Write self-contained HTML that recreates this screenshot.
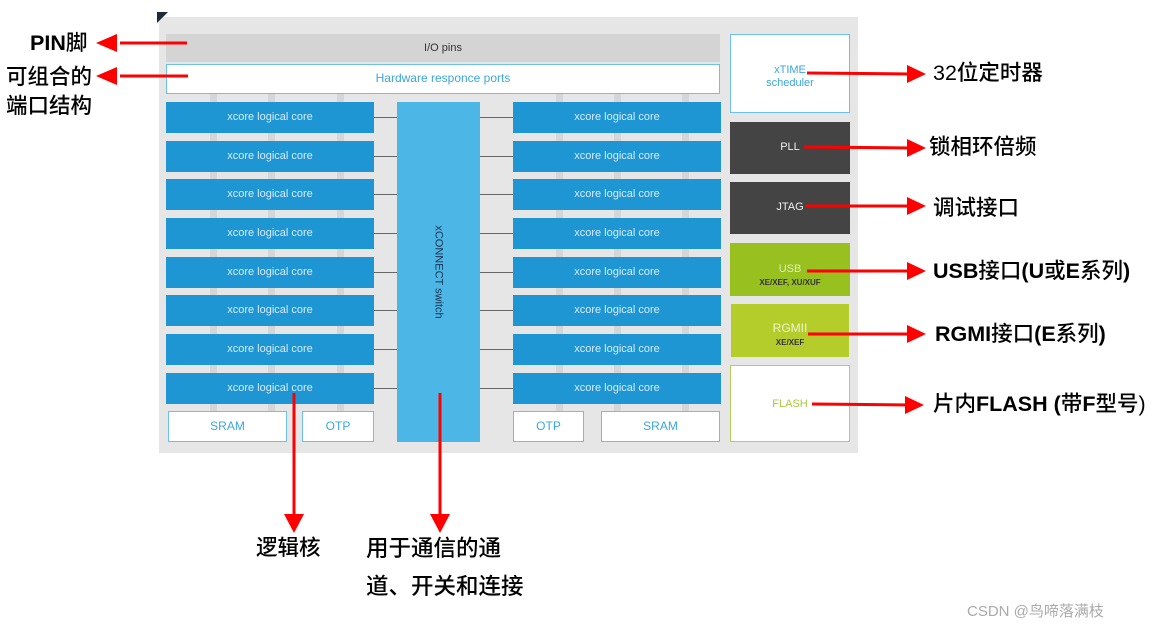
<!DOCTYPE html>
<html><head><meta charset="utf-8"><style>
body{margin:0;width:1153px;height:628px;background:#fff;position:relative;overflow:hidden;font-family:"Liberation Sans","Noto Sans CJK SC",sans-serif}
div{position:absolute;box-sizing:border-box}
.c{background:#1f96d4;color:#d5ecfa;font-size:11px;text-align:center;height:31px;line-height:31px;width:208px}
.w{background:#fff;border:1.5px solid #6cc0ea;color:#3aa6df;font-size:12px;text-align:center}
.lbl{color:#000;font-weight:500;font-size:21.5px;white-space:nowrap;font-family:"Liberation Sans","Noto Sans CJK SC",sans-serif;line-height:26px}
.lbl b{font-weight:bold}
.st{background:#d6d6d6;width:7px}
.ln{background:#666;height:1px}
</style></head><body>
<div style="left:159px;top:17px;width:699px;height:436px;background:#e6e6e6"></div>
<svg style="position:absolute;left:157px;top:12px" width="12" height="12"><polygon points="0,0 11,0 0,11" fill="#1d2a3a"/></svg>
<div class="st" style="left:210px;top:94px;height:318px"></div>
<div class="st" style="left:268px;top:94px;height:318px"></div>
<div class="st" style="left:337px;top:94px;height:318px"></div>
<div class="st" style="left:556px;top:94px;height:318px"></div>
<div class="st" style="left:614px;top:94px;height:318px"></div>
<div class="st" style="left:682px;top:94px;height:318px"></div>
<div style="left:166px;top:34px;width:554px;height:28px;background:#d4d4d4;color:#333;font-size:11px;text-align:center;line-height:28px">I/O pins</div>
<div class="w" style="left:166px;top:64px;width:554px;height:30px;line-height:27px">Hardware responce ports</div>
<div style="left:397px;top:102px;width:83px;height:340px;background:#4cb6e6"></div>
<div style="left:427px;top:102px;width:24px;height:340px;display:flex;align-items:center;justify-content:center"><span style="transform:rotate(90deg);white-space:nowrap;font-size:11px;color:#1a3550">xCONNECT switch</span></div>
<div class="c" style="left:166px;top:102px">xcore logical core</div>
<div class="c" style="left:166px;top:141px">xcore logical core</div>
<div class="c" style="left:166px;top:179px">xcore logical core</div>
<div class="c" style="left:166px;top:218px">xcore logical core</div>
<div class="c" style="left:166px;top:257px">xcore logical core</div>
<div class="c" style="left:166px;top:295px">xcore logical core</div>
<div class="c" style="left:166px;top:334px">xcore logical core</div>
<div class="c" style="left:166px;top:373px">xcore logical core</div>
<div class="c" style="left:513px;top:102px">xcore logical core</div>
<div class="c" style="left:513px;top:141px">xcore logical core</div>
<div class="c" style="left:513px;top:179px">xcore logical core</div>
<div class="c" style="left:513px;top:218px">xcore logical core</div>
<div class="c" style="left:513px;top:257px">xcore logical core</div>
<div class="c" style="left:513px;top:295px">xcore logical core</div>
<div class="c" style="left:513px;top:334px">xcore logical core</div>
<div class="c" style="left:513px;top:373px">xcore logical core</div>
<div class="ln" style="left:374px;top:117px;width:23px"></div><div class="ln" style="left:480px;top:117px;width:33px"></div>
<div class="ln" style="left:374px;top:156px;width:23px"></div><div class="ln" style="left:480px;top:156px;width:33px"></div>
<div class="ln" style="left:374px;top:194px;width:23px"></div><div class="ln" style="left:480px;top:194px;width:33px"></div>
<div class="ln" style="left:374px;top:233px;width:23px"></div><div class="ln" style="left:480px;top:233px;width:33px"></div>
<div class="ln" style="left:374px;top:272px;width:23px"></div><div class="ln" style="left:480px;top:272px;width:33px"></div>
<div class="ln" style="left:374px;top:310px;width:23px"></div><div class="ln" style="left:480px;top:310px;width:33px"></div>
<div class="ln" style="left:374px;top:349px;width:23px"></div><div class="ln" style="left:480px;top:349px;width:33px"></div>
<div class="ln" style="left:374px;top:388px;width:23px"></div><div class="ln" style="left:480px;top:388px;width:33px"></div>
<div class="w" style="left:168px;top:411px;width:119px;height:31px;line-height:28px">SRAM</div>
<div class="w" style="left:302px;top:411px;width:72px;height:31px;line-height:28px">OTP</div>
<div class="w" style="left:513px;top:411px;width:71px;height:31px;line-height:28px">OTP</div>
<div class="w" style="left:601px;top:411px;width:119px;height:31px;line-height:28px">SRAM</div>
<div class="w" style="left:730px;top:34px;width:120px;height:79px;font-size:11px;padding-top:29px;line-height:13px">xTIME<br>scheduler</div>
<div style="left:730px;top:122px;width:120px;height:52px;background:#444;color:#eee;font-size:11px;text-align:center;line-height:50px">PLL</div>
<div style="left:730px;top:182px;width:120px;height:52px;background:#444;color:#eee;font-size:11px;text-align:center;line-height:50px">JTAG</div>
<div style="left:730px;top:243px;width:120px;height:53px;background:#98c11f;color:#dfeec0;font-size:11px;text-align:center;padding-top:20px;line-height:13px">USB<br><b style="font-size:8px;color:#333">XE/XEF, XU/XUF</b></div>
<div style="left:731px;top:304px;width:118px;height:53px;background:#b5cd2a;color:#eef5cf;font-size:12px;text-align:center;padding-top:18px;line-height:13px">RGMII<br><b style="font-size:8px;color:#333">XE/XEF</b></div>
<div style="left:730px;top:365px;width:120px;height:77px;background:#fff;border:1.5px solid #b5cd5a;color:#a8c83a;font-size:11px;text-align:center;line-height:76px">FLASH</div>
<svg style="position:absolute;left:0;top:0" width="1153" height="628">
<g stroke="#f00" stroke-width="3" fill="none">
<line x1="187" y1="43" x2="120" y2="43"/>
<line x1="188" y1="76" x2="120" y2="76"/>
<line x1="807" y1="73" x2="910" y2="74"/>
<line x1="804" y1="147" x2="910" y2="148"/>
<line x1="805" y1="206" x2="910" y2="206"/>
<line x1="807" y1="271" x2="910" y2="271"/>
<line x1="808" y1="334" x2="910" y2="334"/>
<line x1="812" y1="404" x2="910" y2="405"/>
<line x1="294" y1="393" x2="294" y2="518"/>
<line x1="440" y1="393" x2="440" y2="518"/>
</g>
<g fill="#f00">
<polygon points="96,43 117,34 117,52"/>
<polygon points="96,76 117,67 117,85"/>
<polygon points="926,74 907,65 907,83"/>
<polygon points="926,148 907,139 907,157"/>
<polygon points="926,206 907,197 907,215"/>
<polygon points="926,271 907,262 907,280"/>
<polygon points="926,334 907,325 907,343"/>
<polygon points="924,405 905,396 905,414"/>
<polygon points="294,533 284,514 304,514"/>
<polygon points="440,533 430,514 450,514"/>
</g>
</svg>
<div class="lbl" style="left:30px;top:30px"><b>PIN</b>脚</div>
<div class="lbl" style="left:6px;top:64px">可组合的</div>
<div class="lbl" style="left:6px;top:93px">端口结构</div>
<div class="lbl" style="left:933px;top:60px">32位定时器</div>
<div class="lbl" style="left:929px;top:134px">锁相环倍频</div>
<div class="lbl" style="left:933px;top:195px">调试接口</div>
<div class="lbl" style="left:933px;top:258px"><b>USB</b>接口<b>(U</b>或<b>E</b>系列<b>)</b></div>
<div class="lbl" style="left:935px;top:321px"><b>RGMI</b>接口<b>(E</b>系列<b>)</b></div>
<div class="lbl" style="left:933px;top:391px">片内<b>FLASH (</b>带<b>F</b>型号)</div>
<div class="lbl" style="left:256px;top:535px">逻辑核</div>
<div class="lbl" style="left:366px;top:536px;font-size:22.5px">用于通信的通</div>
<div class="lbl" style="left:366px;top:574px;font-size:22.5px">道、开关和连接</div>
<div style="left:967px;top:600px;color:#aaa;font-size:15px;white-space:nowrap">CSDN @鸟啼落满枝</div>
</body></html>
